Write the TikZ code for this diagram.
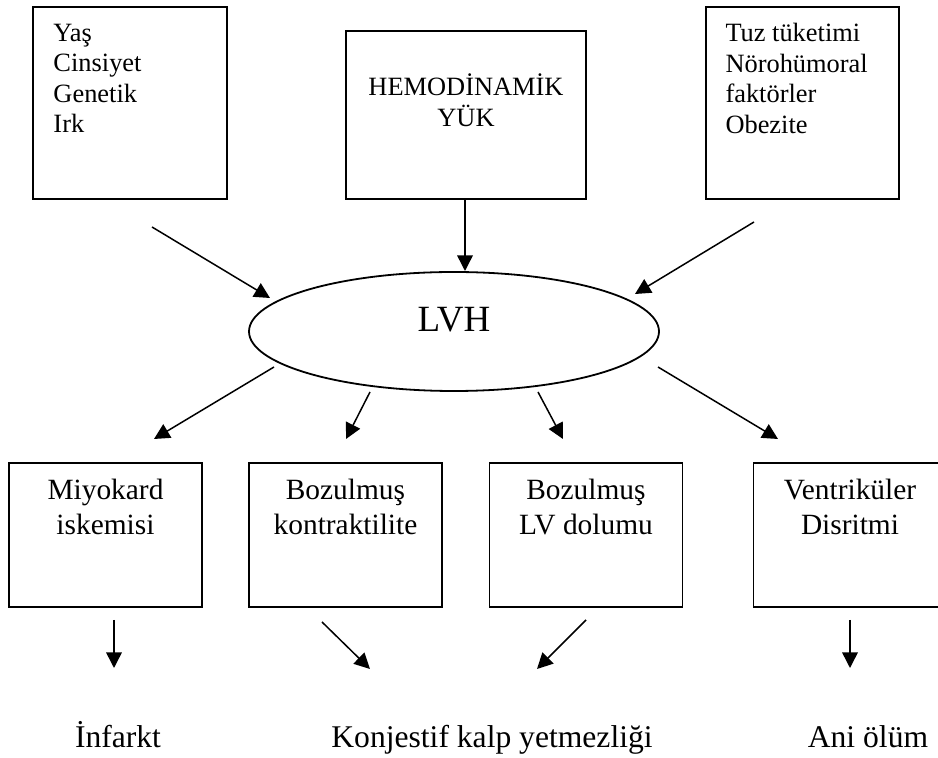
\documentclass[tikz,border=0pt]{standalone}
\usepackage{fontspec}
\setmainfont{Liberation Serif}
\usepackage{tikz}
\usetikzlibrary{positioning, arrows.meta, shapes.geometric}
\tikzset{
  kutu/.style={draw,line width=0.9pt,inner sep=0pt,minimum width=96.5pt},
  liste/.style={inner sep=0pt,align=left,font=\fontsize{13.2}{15.25}\selectfont},
  ortala/.style={inner sep=0pt,align=center,font=\fontsize{14.7}{17.5}\selectfont},
  sonuc/.style={inner sep=0pt,anchor=base,font=\fontsize{15.8}{18}\selectfont},
  ok/.style={-{Triangle[length=7.8pt,width=7.8pt]},line width=0.75pt}
}
\begin{document}
\begin{tikzpicture}[x=0.5pt,y=-0.5pt]
  \useasboundingbox(0,0)rectangle(938,758);
  \node[kutu,minimum width=97pt,minimum height=96pt](risk)at(130,103){};
  \node[liste,below right=8.75pt and 10.5pt of risk.north west](riskyazi){Yaş\\Cinsiyet\\Genetik\\Irk};
  \node[kutu,minimum width=120pt,minimum height=84pt](hemo)at(466,115){};
  \node[ortala,font=\fontsize{13.2}{15.5}\selectfont,below=21.8pt of hemo.north](hemoyazi){HEMODİNAMİK\\YÜK};
  \node[kutu,minimum height=96pt](tuz)at(802.5,103){};
  \node[liste,below right=8.5pt and 10pt of tuz.north west](tuzyazi){Tuz tüketimi\\Nörohümoral\\faktörler\\Obezite};
  \node[draw,ellipse,line width=0.9pt,minimum width=205pt,minimum height=59.5pt,inner sep=0pt,
    text height=0pt,text depth=0pt,font=\fontsize{18.5}{22}\selectfont](lvh)at(454,331.5){LVH};
  \node[kutu,minimum height=72pt](miyo)at(105.5,535){};
  \node[ortala,below=8.4pt of miyo.north](miyoyazi){Miyokard\\iskemisi};
  \node[kutu,minimum height=72pt](kont)at(345.5,535){};
  \node[ortala,below=8.4pt of kont.north](kontyazi){Bozulmuş\\kontraktilite};
  \node[kutu,minimum height=72pt](dolum)at(586,535){};
  \node[ortala,below=8.4pt of dolum.north](dolumyazi){Bozulmuş\\LV dolumu};
  \node[kutu,minimum height=72pt](ritim)at(850,535){};
  \node[ortala,below=8.4pt of ritim.north](ritimyazi){Ventriküler\\Disritmi};
  \node[sonuc](infarkt)at(118,748){İnfarkt};
  \node[sonuc](kky)at(492,748){Konjestif kalp yetmezliği};
  \node[sonuc](ani)at(868,748){Ani ölüm};
  \coordinate(r1)at(152,227);\coordinate(r2)at(270,298);
  \coordinate(h1)at(465,199);\coordinate(h2)at(465,271);
  \coordinate(t1)at(754,222);\coordinate(t2)at(635,294);
  \coordinate(m1)at(274,367);\coordinate(m2)at(154,439);
  \coordinate(k1)at(370,392);\coordinate(k2)at(346,439);
  \coordinate(d1)at(538,392);\coordinate(d2)at(563,439);
  \coordinate(v1)at(658,367);\coordinate(v2)at(778,439);
  \coordinate(i1)at(114,620);\coordinate(i2)at(114,668);
  \coordinate(c1)at(322,622);\coordinate(c2)at(370,669);
  \coordinate(l1)at(586,620);\coordinate(l2)at(537,669);
  \coordinate(a1)at(850,620);\coordinate(a2)at(850,668);
  \draw[ok](r1)--(r2);\draw[ok](h1)--(h2);\draw[ok](t1)--(t2);
  \draw[ok](m1)--(m2);\draw[ok](k1)--(k2);\draw[ok](d1)--(d2);\draw[ok](v1)--(v2);
  \draw[ok](i1)--(i2);\draw[ok](c1)--(c2);\draw[ok](l1)--(l2);\draw[ok](a1)--(a2);
\end{tikzpicture}
\end{document}
